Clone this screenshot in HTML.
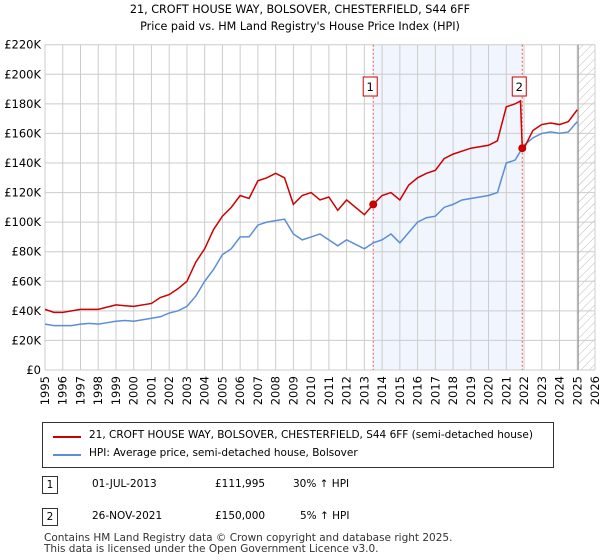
<!DOCTYPE html>
<html><head><meta charset="utf-8"><style>
body{margin:0;width:600px;height:560px;background:#fff;font-family:"DejaVu Sans","Liberation Sans",sans-serif;overflow:hidden;position:relative}
.t{position:absolute;font-size:10.5px;color:#000;white-space:nowrap}
</style></head><body>
<div class="t" style="left:0;width:600px;text-align:center;top:3px;font-size:11.2px">21, CROFT HOUSE WAY, BOLSOVER, CHESTERFIELD, S44 6FF</div>
<div class="t" style="left:0;width:600px;text-align:center;top:20px;font-size:11.2px">Price paid vs. HM Land Registry's House Price Index (HPI)</div>
<svg id="chart" width="600" height="420" style="position:absolute;left:0;top:0" font-family="DejaVu Sans, Liberation Sans, sans-serif" font-size="11.5">
<defs><pattern id="hatch" width="6" height="6" patternUnits="userSpaceOnUse" patternTransform="rotate(45)"><line x1="0" y1="0" x2="0" y2="6" stroke="#bbb" stroke-width="1"/></pattern></defs>
</svg>
<div style="position:absolute;left:42px;top:422px;width:510px;height:44px;border:1px solid #333">
<div style="position:absolute;left:10px;top:13px;width:28px;height:2px;background:#cc0000"></div>
<div class="t" style="left:46px;top:6px">21, CROFT HOUSE WAY, BOLSOVER, CHESTERFIELD, S44 6FF (semi-detached house)</div>
<div style="position:absolute;left:10px;top:31px;width:28px;height:2px;background:#5b8ed6"></div>
<div class="t" style="left:46px;top:24px">HPI: Average price, semi-detached house, Bolsover</div>
</div>
<div>
<div class="t" style="left:42px;top:476px;width:14px;height:16px;border:1px solid #333;text-align:center;line-height:16px">1</div>
<div class="t" style="left:92px;top:478px">01-JUL-2013</div>
<div class="t" style="left:215px;top:478px">£111,995</div>
<div class="t" style="left:293px;top:478px">30% ↑ HPI</div>
</div>
<div>
<div class="t" style="left:42px;top:508px;width:14px;height:16px;border:1px solid #333;text-align:center;line-height:16px">2</div>
<div class="t" style="left:92px;top:510px">26-NOV-2021</div>
<div class="t" style="left:215px;top:510px">£150,000</div>
<div class="t" style="left:300px;top:510px">5% ↑ HPI</div>
</div>
<div class="t" style="left:44px;top:533px;line-height:11px;color:#333">Contains HM Land Registry data © Crown copyright and database right 2025.<br>This data is licensed under the Open Government Licence v3.0.</div>
<script>
const yTicks=[0,20,40,60,80,100,120,140,160,180,200,220];
const xYears=[1995,1996,1997,1998,1999,2000,2001,2002,2003,2004,2005,2006,2007,2008,2009,2010,2011,2012,2013,2014,2015,2016,2017,2018,2019,2020,2021,2022,2023,2024,2025,2026];
const hpiT=[1995,1995.5,1996,1996.5,1997,1997.5,1998,1998.5,1999,1999.5,2000,2000.5,2001,2001.5,2002,2002.5,2003,2003.5,2004,2004.5,2005,2005.5,2006,2006.5,2007,2007.5,2008,2008.5,2009,2009.5,2010,2010.5,2011,2011.5,2012,2012.5,2013,2013.5,2014,2014.5,2015,2015.5,2016,2016.5,2017,2017.5,2018,2018.5,2019,2019.5,2020,2020.5,2021,2021.5,2022,2022.5,2023,2023.5,2024,2024.5,2025];
const hpiV=[31,30,30,30,31,31.5,31,32,33,33.5,33,34,35,36,38.5,40,43,50,60,68,78,82,90,90,98,100,101,102,92,88,90,92,88,84,88,85,82,86,88,92,86,93,100,103,104,110,112,115,116,117,118,120,140,142,152,157,160,161,160,161,168];
const priceT=[1995,1995.5,1996,1997,1998,1999,2000,2001,2001.5,2002,2002.5,2003,2003.5,2004,2004.5,2005,2005.5,2006,2006.5,2007,2007.5,2008,2008.5,2009,2009.5,2010,2010.5,2011,2011.5,2012,2012.5,2013,2013.5,2014,2014.5,2015,2015.5,2016,2016.5,2017,2017.5,2018,2018.5,2019,2019.5,2020,2020.5,2021,2021.5,2021.8,2021.9,2022,2022.5,2023,2023.5,2024,2024.5,2025];
const priceV=[41,39,39,41,41,44,43,45,49,51,55,60,73,82,95,104,110,118,116,128,130,133,130,112,118,120,115,117,108,115,110,105,112,118,120,115,125,130,133,135,143,146,148,150,151,152,155,178,180,182,150,150,162,166,167,166,168,176];
const saleT=[2013.5,2021.9];
const saleV=[111.995,150];
const saleLabels=["1","2"];
const NS="http://www.w3.org/2000/svg";
const svg=document.getElementById('chart');
const X0=45,X1=595,Y0=370,Y1=44.7;
const x=t=>X0+(t-1995)/31*(X1-X0);
const y=v=>Y0-v/220*(Y0-Y1);
function mk(tag,a){const e=document.createElementNS(NS,tag);for(const k in a)e.setAttribute(k,a[k]);svg.appendChild(e);return e;}
let e=mk('rect',{x:x(saleT[0]),y:Y1,width:x(saleT[1])-x(saleT[0]),height:Y0-Y1,fill:'#eef2fc',opacity:0.8});


e=mk('rect',{x:x(2025.05),y:Y1,width:X1-x(2025.05),height:Y0-Y1,fill:'url(#hatch)'});


yTicks.forEach(v=>{const l=mk('line',{x1:X0,x2:X1,y1:y(v),y2:y(v),stroke:'#ccc'});


const t=mk('text',{x:X0-4,y:y(v)+4,'text-anchor':'end'});t.textContent=v===0?'£0':'£'+v+'K';

});
xYears.forEach(yr=>{const l=mk('line',{x1:x(yr),x2:x(yr),y1:Y1,y2:Y0,stroke:'#ccc'});


const t=mk('text',{x:0,y:0,'text-anchor':'end',transform:`translate(${x(yr)+4},${Y0+6}) rotate(-90)`});t.textContent=yr;

});
e=mk('line',{x1:x(2025.05),x2:x(2025.05),y1:Y1,y2:Y0,stroke:'#888'});


saleT.forEach((t,i)=>{const l=mk('line',{x1:x(t),x2:x(t),y1:Y1,y2:Y0,stroke:'#e55','stroke-dasharray':'2,2'});

});
e=mk('polyline',{points:hpiT.map((t,i)=>x(t)+','+y(hpiV[i])).join(' '),fill:'none',stroke:'#5b8ed6','stroke-width':1.5});


e=mk('polyline',{points:priceT.map((t,i)=>x(t)+','+y(priceV[i])).join(' '),fill:'none',stroke:'#cc0000','stroke-width':1.5});


saleT.forEach((t,i)=>{const c=mk('circle',{cx:x(t),cy:y(saleV[i]),r:4,fill:'#cc0000'});


const bx=x(t)-10,by=77;
const r=mk('rect',{x:bx,y:by,width:14,height:19,fill:'#fff',stroke:'#cc0000'});


const tx=mk('text',{x:bx+7,y:by+14,'text-anchor':'middle'});tx.textContent=saleLabels[i];

});
</script>
</body></html>
